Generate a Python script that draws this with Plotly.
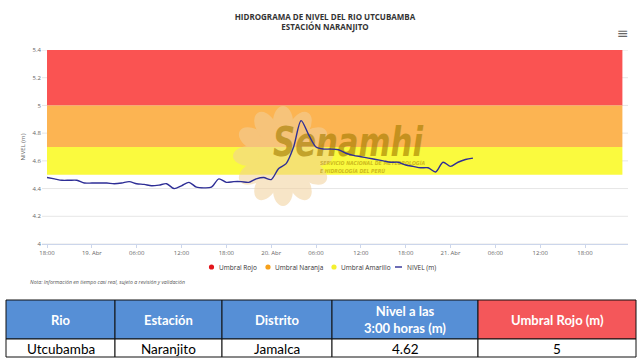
import base64
import math
import plotly.graph_objects as go

# ---------------- data ----------------
hours = list(range(58))  # hours since 18 Apr 18:00
nivel = [4.48, 4.47, 4.46, 4.46, 4.46, 4.44, 4.44, 4.44, 4.44, 4.435,
         4.44, 4.45, 4.435, 4.43, 4.42, 4.425, 4.435, 4.40, 4.42, 4.445,
         4.41, 4.405, 4.41, 4.47, 4.445, 4.45, 4.45, 4.445, 4.47, 4.48,
         4.465, 4.545, 4.58, 4.70, 4.89, 4.79, 4.70, 4.685, 4.685, 4.68,
         4.655, 4.64, 4.63, 4.62, 4.61, 4.60, 4.59, 4.59, 4.57, 4.56,
         4.55, 4.55, 4.52, 4.59, 4.56, 4.59, 4.61, 4.62]

x_tickvals = [0, 6, 12, 18, 24, 30, 36, 42, 48, 54, 60, 66, 72]
x_ticktext = ["18:00", "19. Abr", "06:00", "12:00", "18:00", "20. Abr", "06:00",
              "12:00", "18:00", "21. Abr", "06:00", "12:00", "18:00"]
y_tickvals = [4.0, 4.2, 4.4, 4.6, 4.8, 5.0, 5.2, 5.4]
y_ticktext = ["4", "4.2", "4.4", "4.6", "4.8", "5", "5.2", "5.4"]

band_names = ["Umbral Rojo", "Umbral Naranja", "Umbral Amarillo"]
band_lo = [5.0, 4.7, 4.5]
band_hi = [5.4, 5.0, 4.7]
band_start, band_end = 0, 77

table_header = ["Rio", "Estación", "Distrito", "Nivel a las<br>3:00 horas (m)", "Umbral Rojo (m)"]
table_row = ["Utcubamba", "Naranjito", "Jamalca", "4.62", "5"]

# ---------------- styles ----------------
BAND_COLORS = ["#FA5352", "#FCB452", "#FAFA3E"]
LEGEND_DOT = ["#E3161C", "#F6A01A", "#F4F030"]
LINE_COLOR = "#2E2E96"
HEADER_FILL = ["#568FD6", "#568FD6", "#568FD6", "#568FD6", "#F4575A"]
FONT = "Open Sans"
TFONT = "Lato"

W, H = 642, 361
PX_L, PX_R, PX_T, PX_B = 42, 628, 50, 244
XR = [-0.67, 77.75]
YR = [4.0, 5.4]


def px2x(px):
    return XR[0] + (px - PX_L) / (PX_R - PX_L) * (XR[1] - XR[0])


def py2y(py):
    return YR[1] - (py - PX_T) / (PX_B - PX_T) * (YR[1] - YR[0])


def pxp(px):
    return (px - PX_L) / (PX_R - PX_L)


def pyp(py):
    return (PX_B - py) / (PX_B - PX_T)


fig = go.Figure()
fig.add_trace(go.Scatter(x=hours, y=nivel, mode="lines", name="NIVEL (m)",
                         line=dict(color=LINE_COLOR, width=1.4, shape="spline", smoothing=0.8),
                         showlegend=False, hoverinfo="x+y"))

# grid lines (drawn as shapes below the bands)
for v in y_tickvals:
    fig.add_shape(type="line", xref="x", yref="y", x0=XR[0], x1=XR[1], y0=v, y1=v,
                  line=dict(color="#e6e6e6", width=1), layer="below")
# threshold bands
for lo, hi, c in zip(band_lo, band_hi, BAND_COLORS):
    fig.add_shape(type="rect", xref="x", yref="y", x0=band_start, x1=band_end, y0=lo, y1=hi,
                  fillcolor=c, line_width=0, layer="below")

# watermark logo (SVG image placed between bands and line)
LX0, LY0, LX1, LY1 = 230, 100, 430, 212
lw, lh = LX1 - LX0, LY1 - LY0
petals = []
cx, cy = 283 - LX0, 156 - LY0
for k in range(12):
    a = k * 30
    ex = cx + 34 * math.sin(math.radians(a))
    ey = cy - 34 * math.cos(math.radians(a))
    petals.append(f'<ellipse cx="{ex:.1f}" cy="{ey:.1f}" rx="10" ry="16" transform="rotate({a} {ex:.1f} {ey:.1f})"/>')
svg = f'''<svg xmlns="http://www.w3.org/2000/svg" width="{lw}" height="{lh}" viewBox="0 0 {lw} {lh}">
<g opacity="0.55" fill="rgb(242,208,155)">{''.join(petals)}<circle cx="{cx}" cy="{cy}" r="25"/></g>
<g opacity="0.62" fill="rgb(165,125,0)" font-family="DejaVu Sans" font-weight="bold" font-style="italic">
<text x="{273 - LX0}" y="{156 - LY0}" font-size="40" textLength="150" lengthAdjust="spacingAndGlyphs">Senamhi</text>
</g>
<g opacity="0.5" fill="rgb(165,125,0)" font-family="DejaVu Sans" font-weight="bold" font-style="italic">
<text x="{320 - LX0}" y="{165 - LY0}" font-size="5.5" textLength="105" lengthAdjust="spacingAndGlyphs">SERVICIO NACIONAL DE METEOROLOGÍA</text>
<text x="{320 - LX0}" y="{173 - LY0}" font-size="5.5" textLength="65" lengthAdjust="spacingAndGlyphs">E HIDROLOGÍA DEL PERÚ</text>
</g></svg>'''
uri = "data:image/svg+xml;base64," + base64.b64encode(svg.encode("utf-8")).decode()
fig.add_layout_image(source=uri, xref="x", yref="y", x=px2x(LX0), y=py2y(LY0),
                     sizex=px2x(LX1) - px2x(LX0), sizey=py2y(LY0) - py2y(LY1),
                     xanchor="left", yanchor="top", sizing="stretch", layer="below")

annotations = []
shapes = []

# legend (manual)
leg_y = pyp(267)
leg_dot_px = [211.5, 268, 334]
for name, dx, col in zip(band_names, leg_dot_px, LEGEND_DOT):
    shapes.append(dict(type="circle", xref="paper", yref="paper", xsizemode="pixel", ysizemode="pixel",
                       xanchor=pxp(dx), yanchor=leg_y, x0=-2.6, x1=2.6, y0=-2.6, y1=2.6,
                       fillcolor=col, line_width=0))
    annotations.append(dict(xref="paper", yref="paper", x=pxp(dx + 5), y=leg_y, text=name,
                            showarrow=False, xanchor="left", yanchor="middle",
                            font=dict(family=FONT, size=6.5, color="#333")))
shapes.append(dict(type="line", xref="paper", yref="paper", x0=pxp(395), x1=pxp(402), y0=leg_y, y1=leg_y,
                   line=dict(color=LINE_COLOR, width=1.4)))
annotations.append(dict(xref="paper", yref="paper", x=pxp(405), y=leg_y, text="NIVEL (m)",
                        showarrow=False, xanchor="left", yanchor="middle",
                        font=dict(family=FONT, size=6.5, color="#333")))

# note
annotations.append(dict(xref="paper", yref="paper", x=pxp(28), y=pyp(282),
                        text="<i>Nota: Información en tiempo casi real, sujeto a revisión y validación</i>",
                        showarrow=False, xanchor="left", yanchor="middle",
                        font=dict(family=FONT, size=5.2, color="#555")))

# menu icon
annotations.append(dict(xref="paper", yref="paper", x=pxp(623), y=pyp(33), text="≡",
                        showarrow=False, xanchor="center", yanchor="middle",
                        font=dict(family="DejaVu Sans", size=14, color="#666")))

# table (shapes + text)
col_edges = [6, 115, 222, 332, 478, 636]
T_TOP, T_MID, T_BOT = 300, 339, 357
for i in range(len(table_header)):
    x0, x1 = col_edges[i], col_edges[i + 1]
    shapes.append(dict(type="rect", xref="paper", yref="paper", x0=pxp(x0), x1=pxp(x1),
                       y0=pyp(T_MID), y1=pyp(T_TOP), fillcolor=HEADER_FILL[i],
                       line=dict(color="#111", width=1)))
    shapes.append(dict(type="rect", xref="paper", yref="paper", x0=pxp(x0), x1=pxp(x1),
                       y0=pyp(T_BOT), y1=pyp(T_MID), fillcolor="white",
                       line=dict(color="#111", width=1)))
    annotations.append(dict(xref="paper", yref="paper", x=pxp((x0 + x1) / 2), y=pyp((T_TOP + T_MID) / 2),
                            text="<b>" + table_header[i] + "</b>", showarrow=False,
                            xanchor="center", yanchor="middle",
                            font=dict(family=TFONT, size=13, color="white")))
    annotations.append(dict(xref="paper", yref="paper", x=pxp((x0 + x1) / 2), y=pyp((T_MID + T_BOT) / 2 + 0.5),
                            text=table_row[i], showarrow=False,
                            xanchor="center", yanchor="middle",
                            font=dict(family=TFONT, size=13.5, color="black")))

fig.update_layout(
    width=W, height=H,
    margin=dict(l=PX_L, r=W - PX_R, t=PX_T, b=H - PX_B),
    paper_bgcolor="white", plot_bgcolor="white",
    showlegend=False,
    title=dict(text="<b>HIDROGRAMA DE NIVEL DEL RIO UTCUBAMBA<br>ESTACIÓN NARANJITO</b>",
               x=325 / W, xanchor="center", y=1 - 20 / H, yanchor="top",
               font=dict(family=FONT, size=8, color="#333")),
    xaxis=dict(range=XR, tickmode="array", tickvals=x_tickvals, ticktext=x_ticktext,
               showgrid=False, zeroline=False, showline=True, linecolor="#ccd6eb", linewidth=1,
               ticks="outside", ticklen=3, tickcolor="#ccd6eb",
               tickfont=dict(family=FONT, size=6, color="#666")),
    yaxis=dict(range=YR, tickmode="array", tickvals=y_tickvals, ticktext=y_ticktext,
               showgrid=False, zeroline=False, showline=False,
               tickfont=dict(family=FONT, size=6, color="#666"),
               title=dict(text="NIVEL (m)", standoff=6, font=dict(family=FONT, size=6, color="#666"))),
    annotations=annotations,
    shapes=fig.layout.shapes + tuple(shapes),
)

fig.write_html("out.html", config={"displayModeBar": False},
               post_script="document.body.style.margin='0';document.body.style.overflow='hidden';")
